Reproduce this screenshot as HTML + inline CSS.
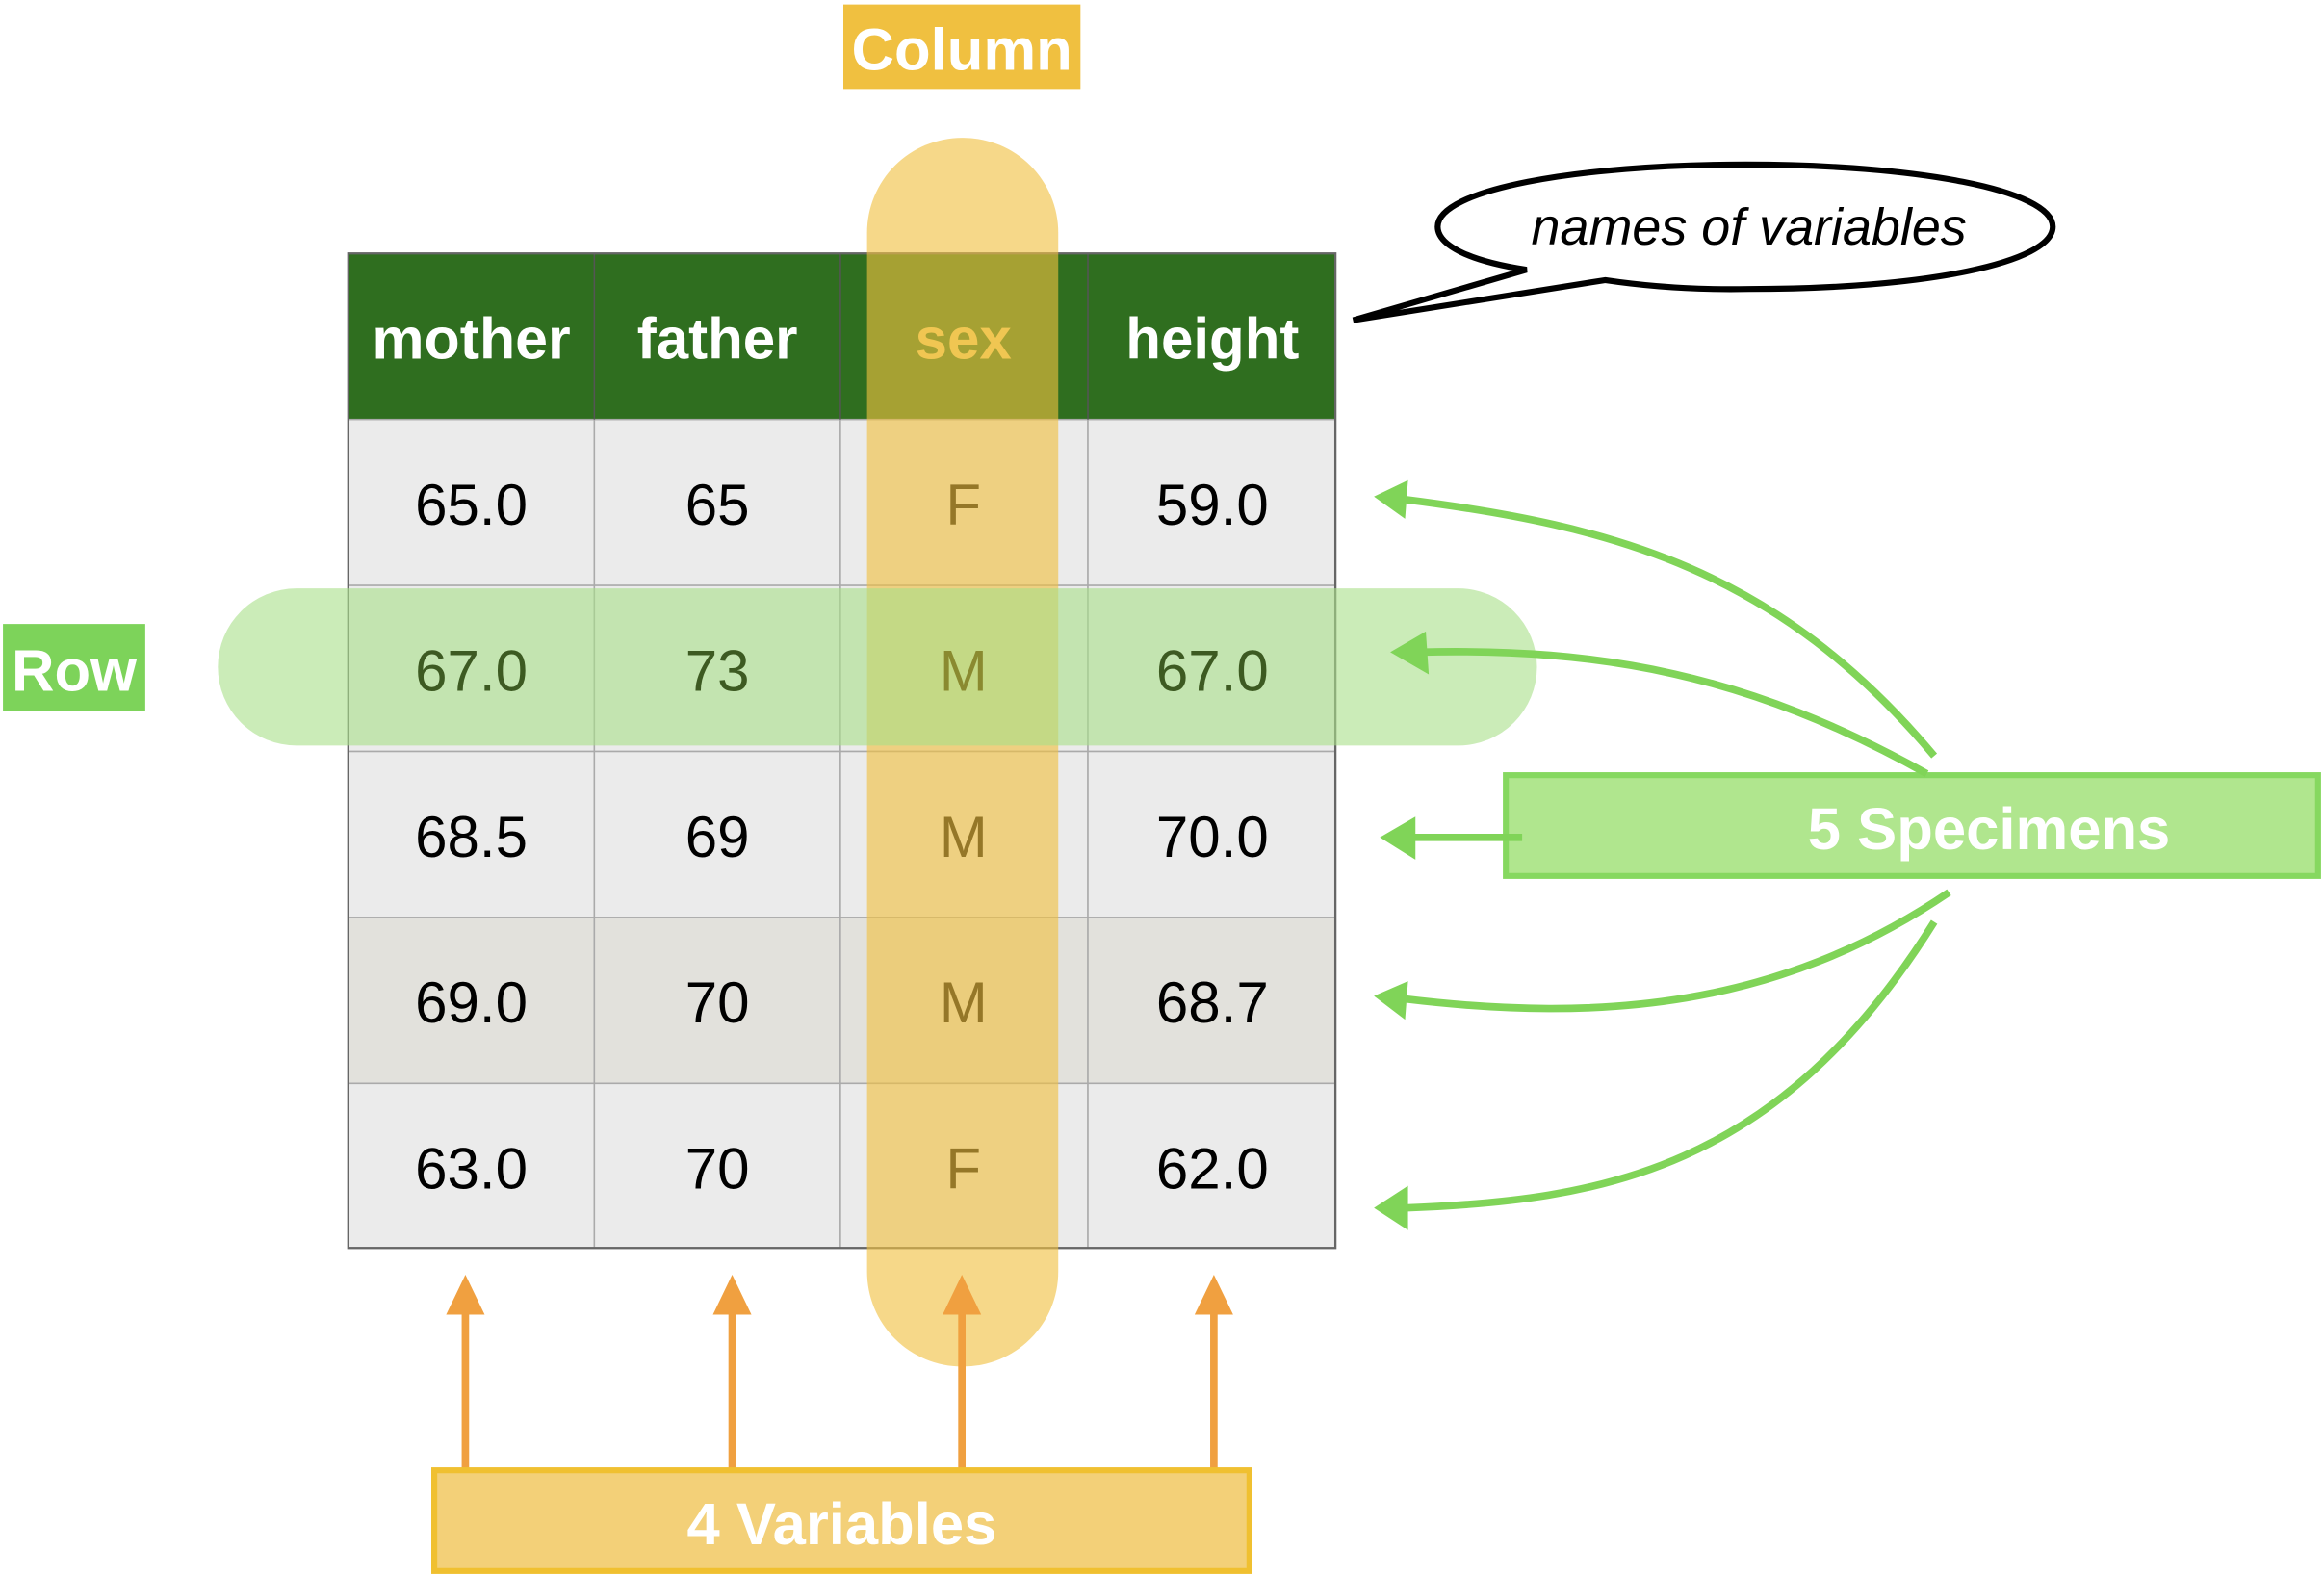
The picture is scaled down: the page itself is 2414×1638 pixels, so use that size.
<!DOCTYPE html>
<html><head><meta charset="utf-8"><style>
html,body{margin:0;padding:0;background:#fff;}
svg{display:block;}
text{font-family:"Liberation Sans",Arial,sans-serif;}
</style></head><body>
<svg width="2414" height="1638" viewBox="0 0 1568 1064" preserveAspectRatio="none" xmlns="http://www.w3.org/2000/svg">
<!-- table -->
<rect x="235" y="171" width="666" height="112" fill="#2f6e1f"/>
<g fill="#ebebeb" stroke="#aaaaaa" stroke-width="1">
<rect x="235" y="283" width="166" height="112"/><rect x="401" y="283" width="166" height="112"/><rect x="567" y="283" width="167" height="112"/><rect x="734" y="283" width="167" height="112"/>
<rect x="235" y="395" width="166" height="112"/><rect x="401" y="395" width="166" height="112"/><rect x="567" y="395" width="167" height="112"/><rect x="734" y="395" width="167" height="112"/>
<rect x="235" y="507" width="166" height="112"/><rect x="401" y="507" width="166" height="112"/><rect x="567" y="507" width="167" height="112"/><rect x="734" y="507" width="167" height="112"/>
<rect x="235" y="619" width="166" height="112" fill="#e2e1dc"/><rect x="401" y="619" width="166" height="112" fill="#e2e1dc"/><rect x="567" y="619" width="167" height="112" fill="#e2e1dc"/><rect x="734" y="619" width="167" height="112" fill="#e2e1dc"/>
<rect x="235" y="731" width="166" height="111"/><rect x="401" y="731" width="166" height="111"/><rect x="567" y="731" width="167" height="111"/><rect x="734" y="731" width="167" height="111"/>
</g>
<g stroke="#555" stroke-width="1"><line x1="401" y1="171" x2="401" y2="283"/><line x1="567" y1="171" x2="567" y2="283"/><line x1="734" y1="171" x2="734" y2="283"/></g>
<rect x="235" y="171" width="666" height="671" fill="none" stroke="#666" stroke-width="1.5"/>
<g font-size="39" font-weight="bold" fill="#fff" text-anchor="middle">
<text x="318" y="242" textLength="134" lengthAdjust="spacingAndGlyphs">mother</text><text x="484" y="242">father</text><text x="650" y="242" fill="#f0d070">sex</text><text x="818" y="242">height</text>
</g>
<g font-size="39" fill="#000" text-anchor="middle">
<text x="318" y="354">65.0</text><text x="484" y="354">65</text><text x="650" y="354">F</text><text x="818" y="354">59.0</text>
<text x="318" y="578">68.5</text><text x="484" y="578">69</text><text x="650" y="578">M</text><text x="818" y="578">70.0</text>
<text x="318" y="690">69.0</text><text x="484" y="690">70</text><text x="650" y="690">M</text><text x="818" y="690">68.7</text>
<text x="318" y="802">63.0</text><text x="484" y="802">70</text><text x="650" y="802">F</text><text x="818" y="802">62.0</text>
</g>
<!-- column highlight -->
<rect x="585" y="93" width="129" height="829" rx="64" fill="#f0c040" opacity="0.62"/>
<!-- row highlight -->
<rect x="147" y="397" width="890" height="106" rx="53" fill="#a8e088" opacity="0.6"/>
<g font-size="39" text-anchor="middle" fill="#3d5a22">
<text x="318" y="466">67.0</text><text x="484" y="466">73</text><text x="650" y="466" fill="#8a8a30">M</text><text x="818" y="466">67.0</text>
</g>
<!-- labels -->
<rect x="569" y="3" width="160" height="57" fill="#f0c040"/>
<text x="649" y="47" font-size="40" font-weight="bold" fill="#fff" text-anchor="middle">Column</text>
<rect x="2" y="421" width="96" height="59" fill="#7dd35a"/>
<text x="50" y="466" font-size="40" font-weight="bold" fill="#fff" text-anchor="middle">Row</text>
<!-- speech bubble -->
<path d="M1030,182 L913,216 L1083,189 Q1130,196 1180,195 C1300,195 1385,177 1385,153 C1385,128 1292,111 1178,111 C1063,111 970,128 970,153 C970,165 990,176 1030,182 Z" fill="#fff" stroke="#000" stroke-width="4" stroke-linejoin="miter"/>
<text x="1180" y="165" font-size="35" font-style="italic" fill="#000" text-anchor="middle">names of variables</text>
<!-- orange arrows -->
<g stroke="#f0a040" stroke-width="5" fill="none">
<line x1="314" y1="992" x2="314" y2="882"/><line x1="494" y1="992" x2="494" y2="882"/><line x1="649" y1="992" x2="649" y2="882"/><line x1="819" y1="992" x2="819" y2="882"/>
</g>
<g fill="#f0a040">
<polygon points="301,887 327,887 314,860"/><polygon points="481,887 507,887 494,860"/><polygon points="636,887 662,887 649,860"/><polygon points="806,887 832,887 819,860"/>
</g>
<rect x="293" y="992" width="550" height="68" fill="#f3d078" stroke="#f0c030" stroke-width="4"/>
<text x="568" y="1042" font-size="40" font-weight="bold" fill="#fff" text-anchor="middle">4 Variables</text>
<!-- green box -->
<rect x="1016" y="523" width="548" height="68" fill="#b0e68e" stroke="#86d860" stroke-width="4"/>
<text x="1342" y="573" font-size="40" font-weight="bold" fill="#fff" text-anchor="middle">5 Specimens</text>
<g stroke="#80d458" stroke-width="5" fill="none">
<path d="M1305,510 C1200,385 1090,355 948,337"/>
<path d="M1300,522 C1180,455 1080,437 958,440"/>
<line x1="1027" y1="565" x2="952" y2="565"/>
<path d="M1315,602 C1200,680 1080,690 948,674"/>
<path d="M1305,622 C1200,790 1080,810 948,815"/>
</g>
<g fill="#80d458">
<polygon points="927,335 950,324 948,350"/>
<polygon points="938,440 962,426 964,455"/>
<polygon points="931,565 955,551 955,580"/>
<polygon points="927,672 950,662 948,688"/>
<polygon points="927,815 950,800 950,830"/>
</g>
</svg>
</body></html>
